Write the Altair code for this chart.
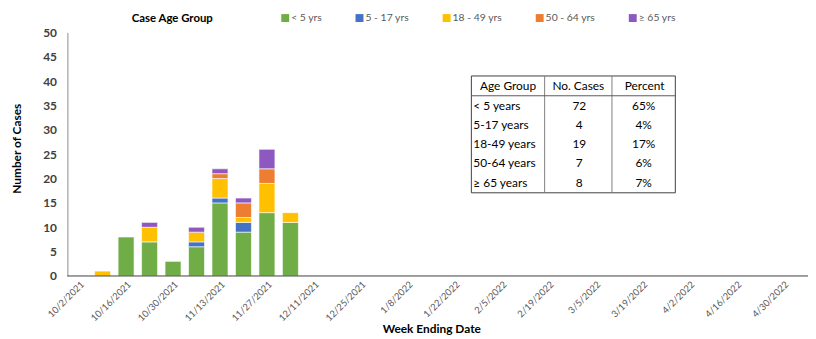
import altair as alt
import pandas as pd

weeks = ["10/2/2021", "10/9/2021", "10/16/2021", "10/23/2021", "10/30/2021", "11/6/2021",
         "11/13/2021", "11/20/2021", "11/27/2021", "12/4/2021", "12/11/2021", "12/18/2021",
         "12/25/2021", "1/1/2022", "1/8/2022", "1/15/2022", "1/22/2022", "1/29/2022",
         "2/5/2022", "2/12/2022", "2/19/2022", "2/26/2022", "3/5/2022", "3/12/2022",
         "3/19/2022", "3/26/2022", "4/2/2022", "4/9/2022", "4/16/2022", "4/23/2022", "4/30/2022"]
tick_labels = ["10/2/2021", "10/16/2021", "10/30/2021", "11/13/2021", "11/27/2021",
               "12/11/2021", "12/25/2021", "1/8/2022", "1/22/2022", "2/5/2022", "2/19/2022",
               "3/5/2022", "3/19/2022", "4/2/2022", "4/16/2022", "4/30/2022"]

groups = ["< 5 yrs", "5 - 17 yrs", "18 - 49 yrs", "50 - 64 yrs", "\u2265 65 yrs"]
colors = ["#70AD47", "#4472C4", "#FFC000", "#ED7D31", "#8E58C1"]

cases_lt5 = [0, 0, 8, 7, 3, 6, 15, 9, 13, 11, 0, 0, 0, 0, 0, 0, 0, 0, 0, 0, 0, 0, 0, 0, 0, 0, 0, 0, 0, 0, 0]
cases_5_17 = [0, 0, 0, 0, 0, 1, 1, 2, 0, 0, 0, 0, 0, 0, 0, 0, 0, 0, 0, 0, 0, 0, 0, 0, 0, 0, 0, 0, 0, 0, 0]
cases_18_49 = [0, 1, 0, 3, 0, 2, 4, 1, 6, 2, 0, 0, 0, 0, 0, 0, 0, 0, 0, 0, 0, 0, 0, 0, 0, 0, 0, 0, 0, 0, 0]
cases_50_64 = [0, 0, 0, 0, 0, 0, 1, 3, 3, 0, 0, 0, 0, 0, 0, 0, 0, 0, 0, 0, 0, 0, 0, 0, 0, 0, 0, 0, 0, 0, 0]
cases_65 = [0, 0, 0, 1, 0, 1, 1, 1, 4, 0, 0, 0, 0, 0, 0, 0, 0, 0, 0, 0, 0, 0, 0, 0, 0, 0, 0, 0, 0, 0, 0]

table_headers = ["Age Group", "No. Cases", "Percent"]
table_groups = ["< 5 years", "5-17 years", "18-49 years", "50-64 years", "\u2265 65 years"]
table_cases = [72, 4, 19, 7, 8]
table_pct = ["65%", "4%", "17%", "6%", "7%"]

FONT = "Lato"
W, H = 735, 246

rows = []
for gi, (g, series) in enumerate(zip(groups, [cases_lt5, cases_5_17, cases_18_49, cases_50_64, cases_65])):
    for w, v in zip(weeks, series):
        rows.append({"week": w, "group": g, "cases": v, "order": gi})
df = pd.DataFrame(rows)

color_scale = alt.Scale(domain=groups, range=colors)

bars = alt.Chart(df).transform_filter("datum.cases > 0").mark_bar(
    stroke="white", strokeWidth=0.6
).encode(
    x=alt.X("week:N", scale=alt.Scale(domain=weeks, paddingInner=0.32, paddingOuter=0.16),
            axis=alt.Axis(values=tick_labels, labelAngle=315, labelFont=FONT, labelFontSize=9.5,
                          labelColor="#595959", labelPadding=3, ticks=False, domain=False,
                          title="Week Ending Date", titleFont=FONT, titleFontSize=12,
                          titleFontWeight="bold", titleColor="#000000", titleY=53,
                          titleBaseline="middle")),
    y=alt.Y("cases:Q", stack="zero", scale=alt.Scale(domain=[0, 50]),
            axis=alt.Axis(values=list(range(0, 51, 5)), grid=False, ticks=False,
                          domainColor="#8C8C8C", labelFont=FONT, labelFontSize=12,
                          labelFontWeight="bold", labelColor="#404040", labelPadding=11,
                          title="Number of Cases", titleFont=FONT, titleFontSize=12,
                          titleFontWeight="bold", titleColor="#000000", titleAngle=270,
                          titleX=-51, titleY=117, titleAlign="center",
                          titleBaseline="middle")),
    color=alt.Color("group:N", scale=color_scale, legend=None),
    order=alt.Order("order:Q", sort="ascending"),
)

# legend (drawn in the top margin, Excel-style horizontal layout)
ldf = pd.DataFrame({"group": groups, "idx": list(range(len(groups)))})
lbase = alt.Chart(ldf).transform_calculate(lx="[220, 295, 383, 477, 571][datum.idx]")
lsym = lbase.mark_square(size=64, opacity=1).encode(
    x=alt.X("lx:Q", scale=None, axis=None), y=alt.value(-14.5),
    color=alt.Color("group:N", scale=color_scale, legend=None))
ltxt = lbase.transform_calculate(tx="datum.lx + 6").mark_text(
    font=FONT, fontSize=10.5, color="#595959", align="left", baseline="middle"
).encode(x=alt.X("tx:Q", scale=None, axis=None), y=alt.value(-14.5), text="group:N")
one = alt.Data(values=[{"a": 1}])
ltitle = alt.Chart(one).mark_text(
    text="Case Age Group", font=FONT, fontSize=11.5, fontWeight="bold", color="#000000",
    align="left", baseline="middle").encode(x=alt.value(65), y=alt.value(-14))

baseline = alt.Chart(one).mark_rule(color="#404040", strokeWidth=1).encode(
    x=alt.value(0), x2=alt.value(W + 13), y=alt.value(H))

T_L, T_R, T_T, T_B = 408, 614, 44, 162
border = alt.Chart(one).mark_rect(fill="white", stroke="#404040", strokeWidth=1).encode(
    x=alt.value(T_L), x2=alt.value(T_R), y=alt.value(T_T), y2=alt.value(T_B))
vline1 = alt.Chart(one).mark_rule(color="#7F7F7F").encode(
    x=alt.value(482), y=alt.value(T_T), y2=alt.value(T_B))
vline2 = alt.Chart(one).mark_rule(color="#7F7F7F").encode(
    x=alt.value(550), y=alt.value(T_T), y2=alt.value(T_B))
hline = alt.Chart(one).mark_rule(color="#595959").encode(
    x=alt.value(T_L), x2=alt.value(T_R), y=alt.value(64))

header_layers = []
for h, hx in zip(table_headers, [445, 516, 583]):
    header_layers.append(
        alt.Chart(pd.DataFrame({"h": [h]})).mark_text(
            font=FONT, fontSize=12, color="#000000", align="center", baseline="middle"
        ).encode(x=alt.value(hx), y=alt.value(54.5), text="h:N"))

tdf = pd.DataFrame({"grp": table_groups, "n": table_cases, "pct": table_pct,
                    "row": list(range(len(table_groups)))})
tbase = alt.Chart(tdf).transform_calculate(ty="74.5 + datum.row * 19.3")
ycol = alt.Y("ty:Q", scale=None, axis=None)
col1 = tbase.mark_text(font=FONT, fontSize=12, color="#000000", align="left",
                       baseline="middle").encode(x=alt.value(410), y=ycol, text="grp:N")
col2 = tbase.mark_text(font=FONT, fontSize=12, color="#000000", align="center",
                       baseline="middle").encode(x=alt.value(517), y=ycol, text="n:Q")
col3 = tbase.mark_text(font=FONT, fontSize=12, color="#000000", align="center",
                       baseline="middle").encode(x=alt.value(582), y=ycol, text="pct:N")

table = alt.layer(border, vline1, vline2, hline, *header_layers, col1, col2, col3)

chart = alt.layer(bars, baseline, table, lsym, ltxt, ltitle).resolve_scale(
    x="independent", y="independent"
).properties(
    width=W, height=H,
    autosize=alt.AutoSizeParams(type="none"),
    padding={"left": 60, "top": 23, "right": 13, "bottom": 62},
).configure(font=FONT, view=alt.ViewConfig(stroke=None))

chart.save("out.html", embed_options={"renderer": "svg", "actions": False})
